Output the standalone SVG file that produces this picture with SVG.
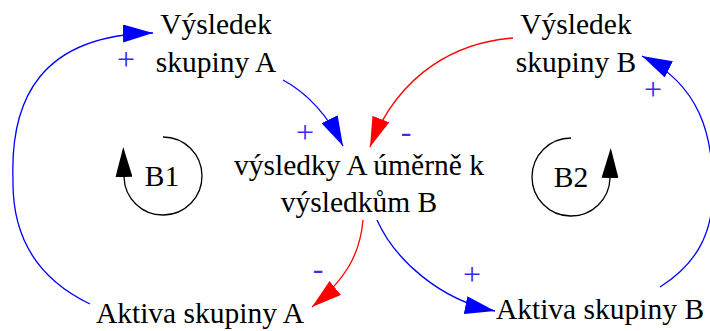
<svg xmlns="http://www.w3.org/2000/svg" width="710" height="331" viewBox="0 0 710 331">
<style>
.t{font-size:29.5px;fill:#000;text-anchor:middle}
.s{font-size:32px;fill:#3a2aff;text-anchor:middle}
.cb{fill:none;stroke:#0000ff;stroke-width:1.3}
.cr{fill:none;stroke:#ff0000;stroke-width:1.3}
.lp{fill:none;stroke:#000;stroke-width:1.3}
</style>
<defs>
<marker id="ab" markerUnits="userSpaceOnUse" viewBox="0 0 30 18" markerWidth="30" markerHeight="18" refX="30" refY="9" orient="auto"><path d="M0,0 L30,9 L0,18 Z" fill="#0000ff"/></marker>
<marker id="ar" markerUnits="userSpaceOnUse" viewBox="0 0 30 18" markerWidth="30" markerHeight="18" refX="30" refY="9" orient="auto"><path d="M0,0 L30,9 L0,18 Z" fill="#ff0000"/></marker>
<marker id="ak" markerUnits="userSpaceOnUse" viewBox="0 0 30 17" markerWidth="30" markerHeight="17" refX="0" refY="8.5" orient="auto"><path d="M0,0 L30,8.5 L0,17 Z" fill="#000"/></marker>
</defs>
<g id="connectors">
<path class="cb" d="M90,304 C40,280 12,240 13,180 C10,100 40,35 153,33" marker-end="url(#ab)"/>
<path class="cb" d="M283,80 Q320,100 343,146" marker-end="url(#ab)"/>
<path class="cr" d="M513,38 C460,42 400,70 370,147" marker-end="url(#ar)"/>
<path class="cr" d="M363,220 C360,255 345,280 312,307" marker-end="url(#ar)"/>
<path class="cb" d="M377,220 C395,260 440,300 495,311" marker-end="url(#ab)"/>
<path class="cb" d="M660,287 C695,265 713,235 713,190 C713,135 700,85 642,56" marker-end="url(#ab)"/>
</g>
<g id="signs" font-family="Liberation Serif">
<text class="s" font-family="Liberation Serif" x="126" y="70">+</text>
<text class="s" font-family="Liberation Serif" x="305" y="143">+</text>
<text class="s" font-family="Liberation Serif" x="406" y="142">-</text>
<text class="s" font-family="Liberation Serif" x="653" y="100">+</text>
<text class="s" font-family="Liberation Serif" x="318" y="279">-</text>
<text class="s" font-family="Liberation Serif" x="472" y="285">+</text>
</g>
<g id="vysledekA"><text class="t" font-family="Liberation Serif" x="216" y="34">Výsledek</text><text class="t" font-family="Liberation Serif" x="216" y="72">skupiny A</text></g>
<g id="vysledekB"><text class="t" font-family="Liberation Serif" x="576" y="34">Výsledek</text><text class="t" font-family="Liberation Serif" x="576" y="72">skupiny B</text></g>
<g id="pomer"><text class="t" font-family="Liberation Serif" x="359" y="175">výsledky A úměrně k</text><text class="t" font-family="Liberation Serif" x="359" y="212">výsledkům B</text></g>
<g id="aktivaA"><text class="t" font-family="Liberation Serif" x="200" y="323">Aktiva skupiny A</text></g>
<g id="aktivaB"><text class="t" font-family="Liberation Serif" x="600" y="319">Aktiva skupiny B</text></g>
<g id="B1"><path class="lp" d="M163,137 A39,39 0 1 1 124,177" marker-end="url(#ak)"/><text class="t" font-family="Liberation Serif" x="162" y="186">B1</text></g>
<g id="B2"><path class="lp" d="M571,138 A39,39 0 1 0 610,178" marker-end="url(#ak)"/><text class="t" font-family="Liberation Serif" x="571" y="187">B2</text></g>
</svg>
